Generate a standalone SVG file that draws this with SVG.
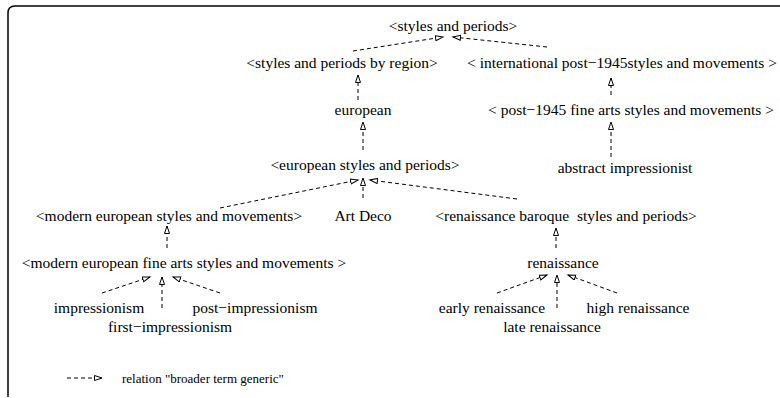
<svg xmlns="http://www.w3.org/2000/svg" width="780" height="398" viewBox="0 0 780 398">
<defs>
<marker id="arr" markerUnits="userSpaceOnUse" markerWidth="10" markerHeight="8" refX="8" refY="3" orient="auto">
<path d="M0.5,0.5 L8,3 L0.5,5.5 z" fill="#fff" stroke="#000" stroke-width="1"/>
</marker>
</defs>
<style>
text{font-family:"Liberation Serif","Times New Roman",serif;font-size:15.5px;fill:#000;text-anchor:middle;white-space:pre}
.e{fill:none;stroke:#000;stroke-width:1;stroke-dasharray:4,3;marker-end:url(#arr)}
.leg{font-size:13px;text-anchor:start}
</style>
<rect width="780" height="398" fill="#fff"/>
<path d="M8,397 V13 Q8,6 15,6 H780" fill="none" stroke="#000" stroke-width="1.5"/>
<g id="connectors">
<line class="e" x1="353" y1="51" x2="443" y2="37"/>
<line class="e" x1="547" y1="47" x2="453" y2="37"/>
<line class="e" x1="358" y1="100" x2="358" y2="75"/>
<line class="e" x1="611" y1="95" x2="611" y2="78"/>
<line class="e" x1="611" y1="157" x2="611" y2="122"/>
<line class="e" x1="363" y1="150" x2="363" y2="122"/>
<line class="e" x1="220" y1="208" x2="358" y2="180"/>
<line class="e" x1="363" y1="198" x2="363" y2="178"/>
<line class="e" x1="517" y1="199" x2="370" y2="180"/>
<line class="e" x1="167" y1="248" x2="167" y2="226"/>
<line class="e" x1="102" y1="293" x2="150" y2="277"/>
<line class="e" x1="162" y1="308" x2="162" y2="277"/>
<line class="e" x1="220" y1="293" x2="173" y2="277"/>
<line class="e" x1="556" y1="248" x2="556" y2="228"/>
<line class="e" x1="497" y1="293" x2="547" y2="275"/>
<line class="e" x1="557" y1="308" x2="557" y2="275"/>
<line class="e" x1="617" y1="293" x2="568" y2="275"/>
</g>
<g id="n-styles-periods"><text x="453" y="31">&lt;styles and periods&gt;</text></g>
<g id="n-by-region"><text x="342" y="68">&lt;styles and periods by region&gt;</text></g>
<g id="n-international"><text x="622" y="68">&lt; international post−1945styles and movements &gt;</text></g>
<g id="n-european"><text x="363" y="115">european</text></g>
<g id="n-post1945"><text x="631" y="115">&lt; post−1945 fine arts styles and movements &gt;</text></g>
<g id="n-european-styles"><text x="365" y="170">&lt;european styles and periods&gt;</text></g>
<g id="n-abstract"><text x="625" y="173">abstract impressionist</text></g>
<g id="n-modern-european"><text x="169" y="221">&lt;modern european styles and movements&gt;</text></g>
<g id="n-art-deco"><text x="363" y="221">Art Deco</text></g>
<g id="n-renaissance-baroque"><text x="566" y="221">&lt;renaissance baroque  styles and periods&gt;</text></g>
<g id="n-modern-fine-arts"><text x="184" y="268">&lt;modern european fine arts styles and movements &gt;</text></g>
<g id="n-renaissance"><text x="563" y="268">renaissance</text></g>
<g id="n-impressionism"><text x="99" y="313">impressionism</text></g>
<g id="n-post-impressionism"><text x="255" y="313">post−impressionism</text></g>
<g id="n-first-impressionism"><text x="170" y="332">first−impressionism</text></g>
<g id="n-early-renaissance"><text x="492" y="313">early renaissance</text></g>
<g id="n-high-renaissance"><text x="638" y="313">high renaissance</text></g>
<g id="n-late-renaissance"><text x="552" y="332">late renaissance</text></g>
<g id="legend">
<line class="e" x1="67" y1="378" x2="102" y2="378"/>
<text class="leg" x="122" y="383">relation "broader term generic"</text>
</g>
</svg>
